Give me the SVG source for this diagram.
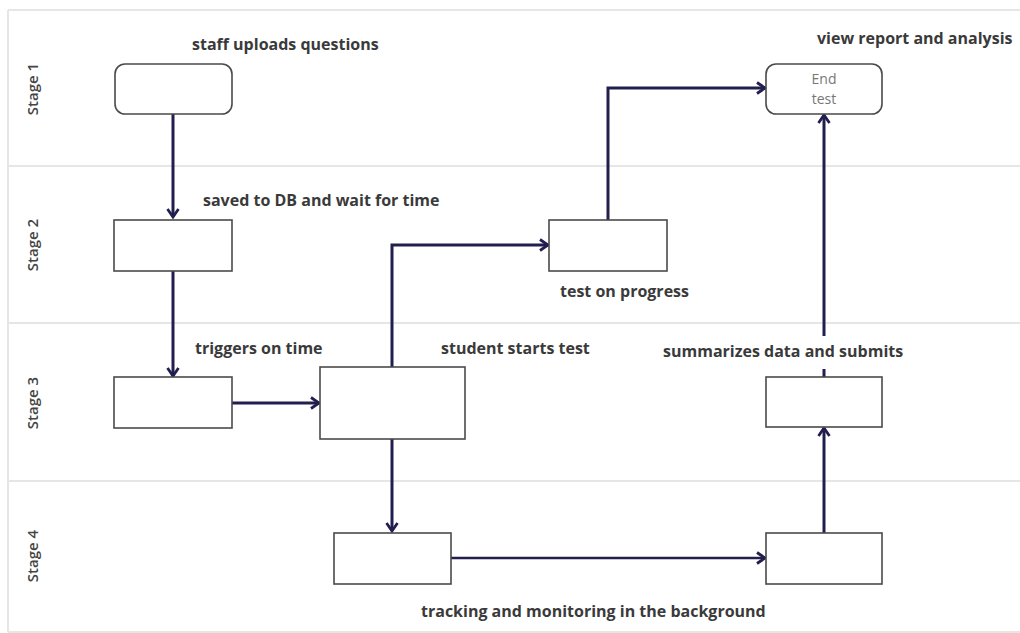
<svg xmlns="http://www.w3.org/2000/svg" width="1020" height="633" viewBox="0 0 1020 633">
<style>
.lane{stroke:#e6e6e6;stroke-width:2;fill:none}
.node{fill:#fff;stroke:#4a4a4a;stroke-width:1.6}
.conn{fill:none;stroke:#221e4e;stroke-width:3}
.lbl{font-family:"Open Sans","Liberation Sans",sans-serif;font-weight:bold;font-size:16px;fill:#3a3a3a}
.stage{font-family:"Open Sans","Liberation Sans",sans-serif;font-weight:600;font-size:15px;fill:#444}
.inner{font-family:"Open Sans","Liberation Sans",sans-serif;font-size:14px;fill:#777}
</style>
<defs>
<marker id="arr" viewBox="0 0 14 14" refX="12" refY="7" markerWidth="14" markerHeight="14" markerUnits="userSpaceOnUse" orient="auto">
<path d="M4,1.5 L12,7 L4,12.5" fill="none" stroke="#221e4e" stroke-width="2.8"/>
</marker>
</defs>
<rect width="1020" height="633" fill="#fff"/>
<g id="lanes">
<line class="lane" x1="8" y1="10" x2="1020" y2="10"/>
<line class="lane" x1="8" y1="10" x2="8" y2="632"/>
<line class="lane" x1="8" y1="166" x2="1020" y2="166"/>
<line class="lane" x1="8" y1="323" x2="1020" y2="323"/>
<line class="lane" x1="8" y1="481" x2="1020" y2="481"/>
<line class="lane" x1="8" y1="632" x2="1020" y2="632"/>
<text class="stage" transform="translate(38,89) rotate(-90)" text-anchor="middle">Stage 1</text>
<text class="stage" transform="translate(38,245) rotate(-90)" text-anchor="middle">Stage 2</text>
<text class="stage" transform="translate(38,403) rotate(-90)" text-anchor="middle">Stage 3</text>
<text class="stage" transform="translate(38,556) rotate(-90)" text-anchor="middle">Stage 4</text>
</g>
<g id="connectors">
<path class="conn" d="M173,114 V217" marker-end="url(#arr)"/>
<path class="conn" d="M173,271 V376" marker-end="url(#arr)"/>
<path class="conn" d="M232,403 H319" marker-end="url(#arr)"/>
<path class="conn" d="M392,367 V245 H548" marker-end="url(#arr)"/>
<path class="conn" d="M392,439 V531" marker-end="url(#arr)"/>
<path class="conn" d="M451,558 H765" marker-end="url(#arr)" style="stroke-width:2.4"/>
<path class="conn" d="M608,220 V88 H765" marker-end="url(#arr)"/>
<path class="conn" d="M824,533 V428" marker-end="url(#arr)"/>
<path class="conn" d="M824,377 V115" marker-end="url(#arr)"/>
</g>
<g id="n1"><rect class="node" x="115" y="64" width="117" height="50" rx="10"/>
<text class="lbl" x="192" y="50">staff uploads questions</text></g>
<g id="n2"><rect class="node" x="114" y="220" width="118" height="51"/>
<text class="lbl" x="203" y="206">saved to DB and wait for time</text></g>
<g id="n3"><rect class="node" x="114" y="377" width="118" height="51"/>
<text class="lbl" x="195" y="354">triggers on time</text></g>
<g id="n4"><rect class="node" x="320" y="367" width="145" height="72"/>
<text class="lbl" x="441" y="354">student starts test</text></g>
<g id="n5"><rect class="node" x="334" y="533" width="117" height="51"/>
<text class="lbl" x="421" y="617">tracking and monitoring in the background</text></g>
<g id="n6"><rect class="node" x="549" y="220" width="118" height="51"/>
<text class="lbl" x="560" y="297">test on progress</text></g>
<g id="n7"><rect class="node" x="766" y="533" width="116" height="51"/></g>
<g id="n8"><rect class="node" x="766" y="377" width="116" height="50"/>
<rect x="660" y="336" width="250" height="33" fill="#fff"/>
<text class="lbl" x="663" y="357">summarizes data and submits</text></g>
<g id="n9"><rect class="node" x="766" y="64" width="116" height="50" rx="10"/>
<text class="inner" x="824" y="84" text-anchor="middle">End</text>
<text class="inner" x="824" y="104" text-anchor="middle">test</text>
<text class="lbl" x="817" y="44">view report and analysis</text></g>
</svg>
